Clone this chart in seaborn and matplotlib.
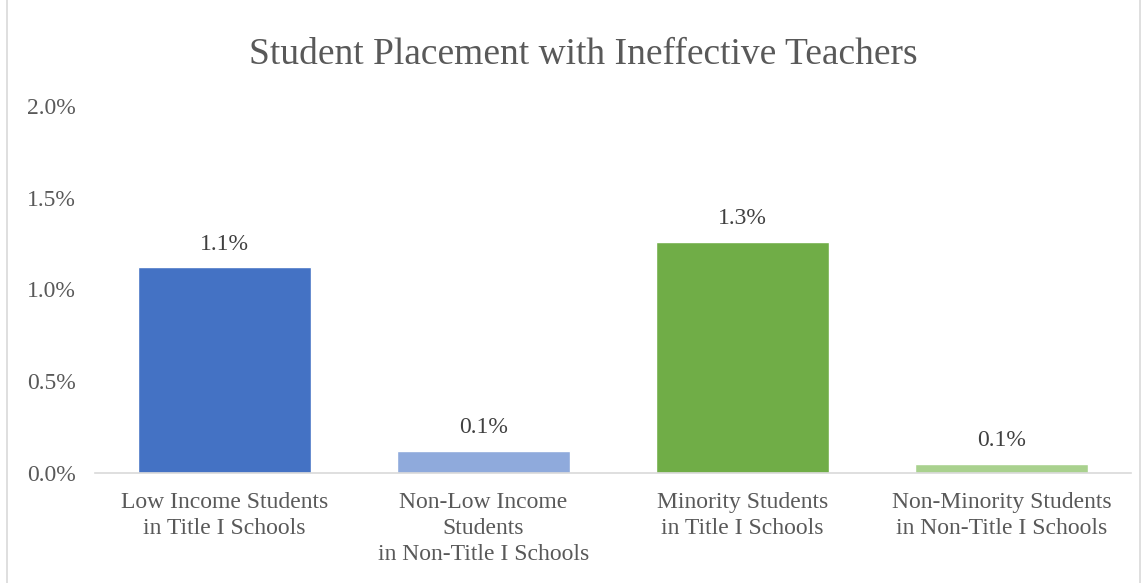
import matplotlib
matplotlib.use("Agg")
import matplotlib.pyplot as plt
import seaborn as sns
import pandas as pd
from matplotlib.patches import Rectangle

categories = [
    "Low Income Students\nin Title I Schools",
    "Non-Low Income\nStudents\nin Non-Title I Schools",
    "Minority Students\nin Title I Schools",
    "Non-Minority Students\nin Non-Title I Schools",
]
values = [1.12, 0.12, 1.26, 0.05]
labels = ["1.1%", "0.1%", "1.3%", "0.1%"]
colors = ["#4472C4", "#8FAADC", "#70AD47", "#A9D18E"]
yticks = [0.0, 0.5, 1.0, 1.5, 2.0]


def main():
    sns.set_style("white")
    plt.rcParams['font.family'] = ['Liberation Serif', 'DejaVu Serif']
    text_color = "#595959"

    df = pd.DataFrame({"category": categories, "value": values})

    fig = plt.figure(figsize=(11.48, 5.83), dpi=100)
    ax = fig.add_axes([0.083, 0.189, 0.902, 0.629])

    sns.barplot(data=df, x="category", y="value", hue="category",
                palette=colors, width=0.67, legend=False, ax=ax,
                saturation=1)

    for i, (v, lab) in enumerate(zip(values, labels)):
        ax.text(i, v + 0.07, lab, ha="center", va="bottom",
                fontsize=17, color="#404040")

    ax.set_ylim(0, 2.0)
    ax.set_yticks(yticks)
    ax.set_yticklabels([f"{t:.1f}%" for t in yticks], fontsize=17, color=text_color)
    ax.set_xlim(-0.5, 3.5)
    ax.set_xticks(range(len(categories)))
    ax.set_xticklabels(categories, fontsize=17, color=text_color, linespacing=1.3)
    ax.tick_params(axis="x", length=0, pad=14)
    ax.tick_params(axis="y", length=0, pad=14)
    ax.set_xlabel("")
    ax.set_ylabel("")

    for s in ["top", "right", "left"]:
        ax.spines[s].set_visible(False)
    ax.spines["bottom"].set_color("#d9d9d9")
    ax.spines["bottom"].set_linewidth(1.2)

    fig.text(0.508, 0.906, "Student Placement with Ineffective Teachers",
             ha="center", va="center", fontsize=27, color=text_color)

    fig.patches.append(Rectangle((0.006, -0.01), 0.987, 1.02, transform=fig.transFigure,
                                 fill=False, edgecolor="#d9d9d9", linewidth=1.2))

    fig.savefig("out.png", dpi=100)


if __name__ == "__main__":
    main()
